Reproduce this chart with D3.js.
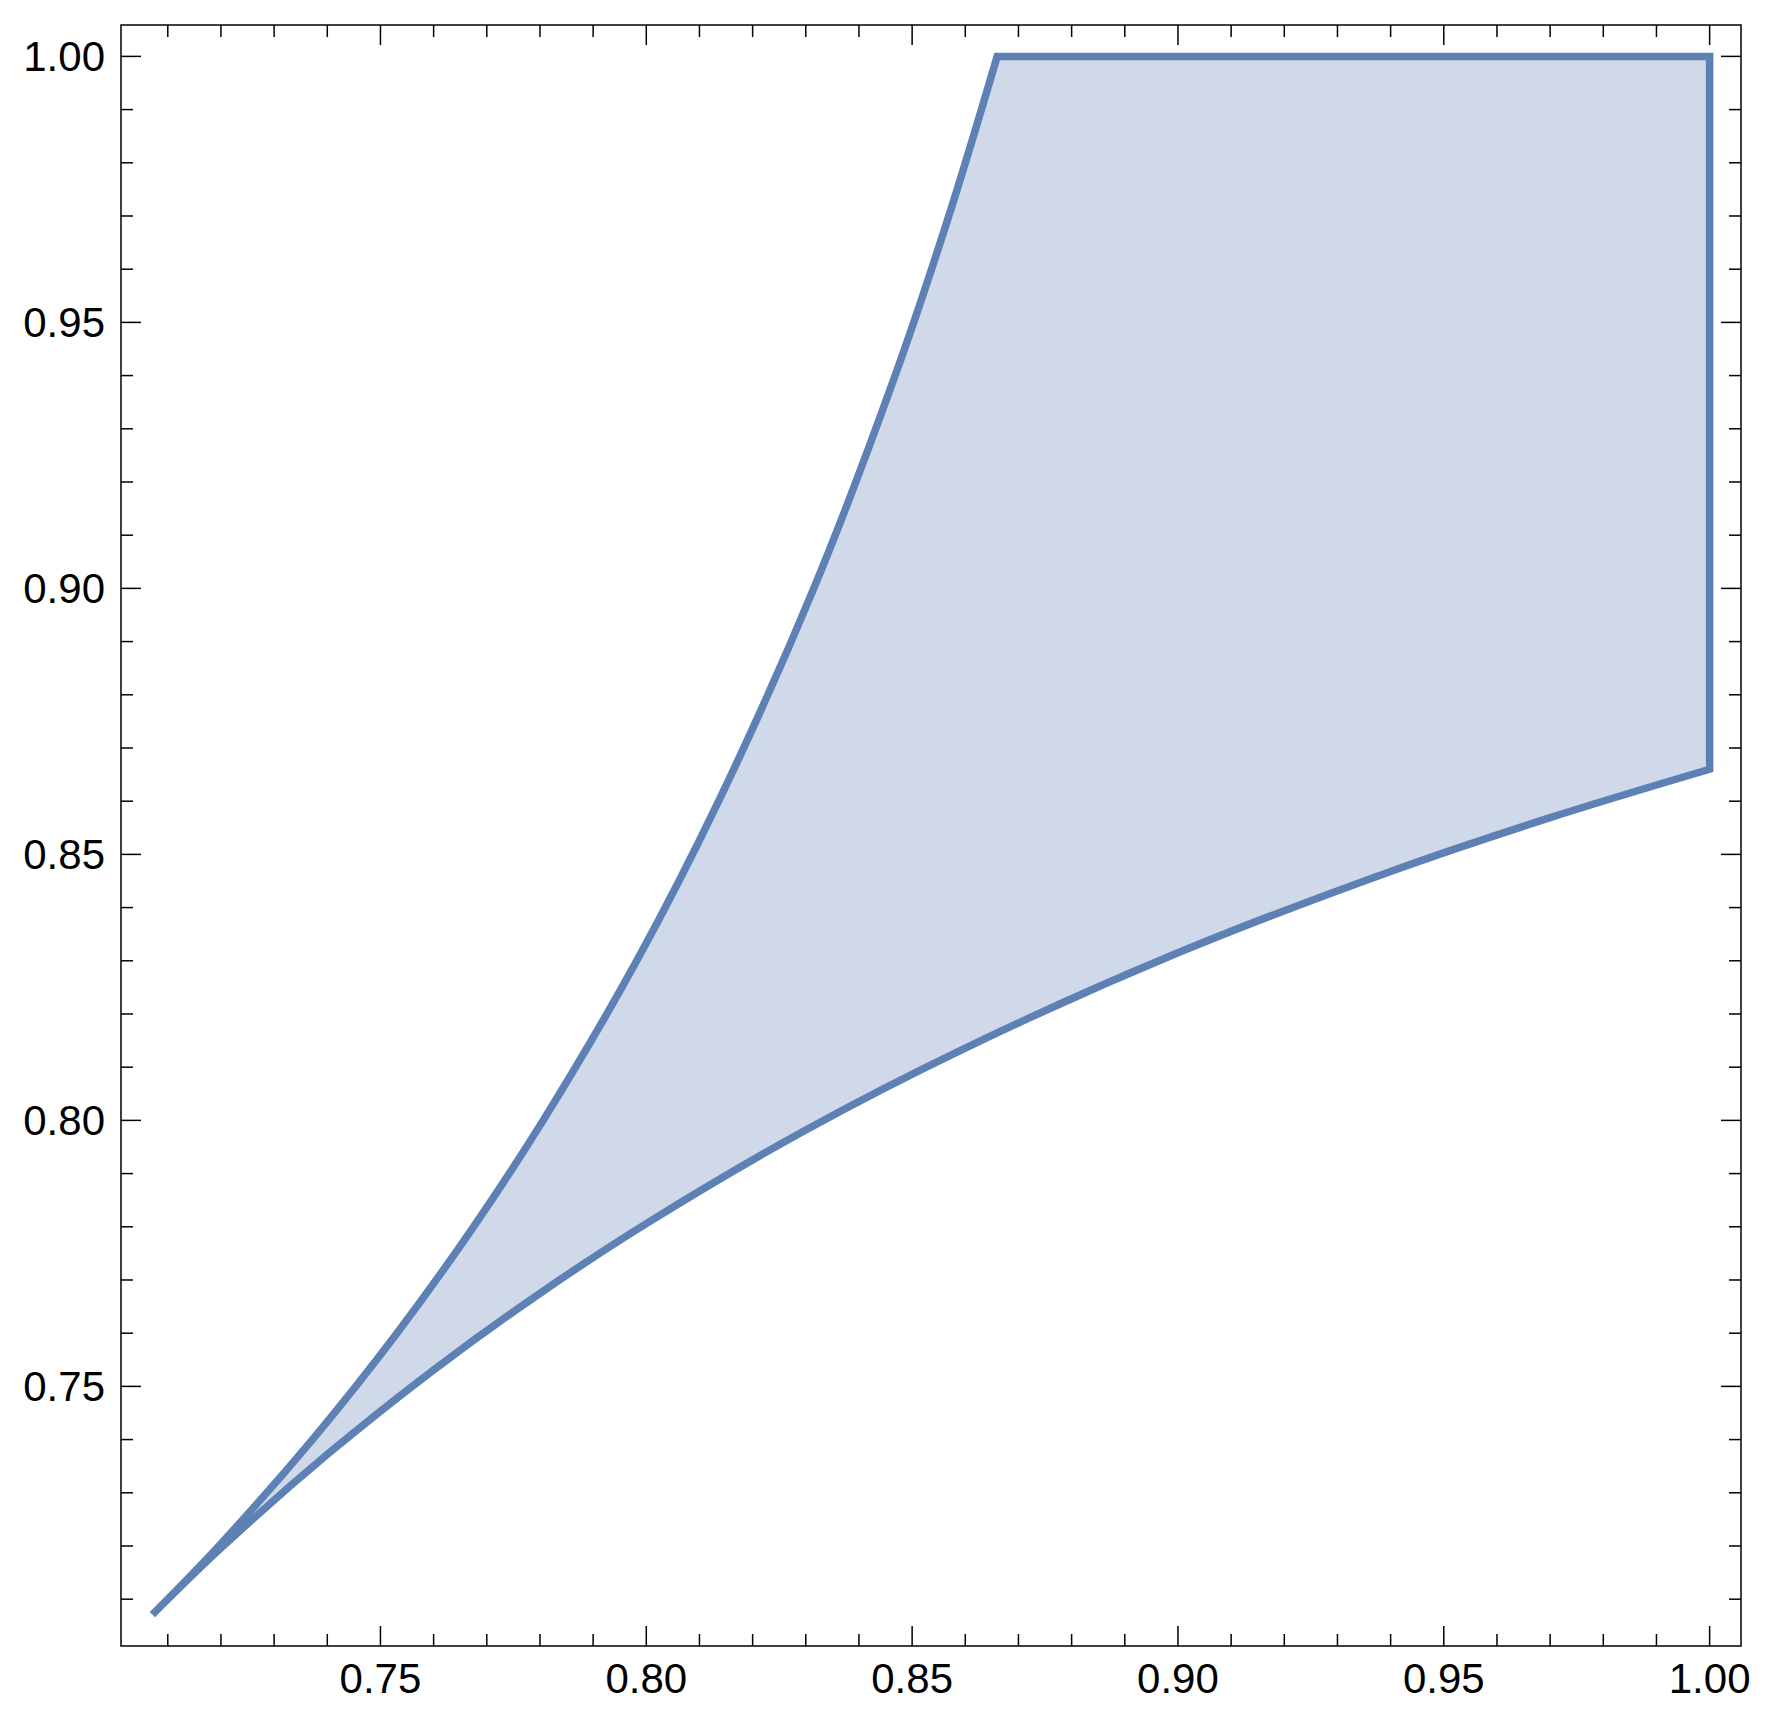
<!DOCTYPE html>
<html>
<head>
<meta charset="utf-8">
<script src="https://cdn.jsdelivr.net/npm/d3@7"></script>
<style>
  body { margin: 0; background: #fff; }
  text { font-family: "Liberation Sans", Arial, sans-serif; }
</style>
</head>
<body>
<div id="chart"></div>
<script>
// values
var lowerEdge = [
  [0.7071, 0.7071], [0.720, 0.7196], [0.740, 0.7372], [0.760, 0.7531],
  [0.780, 0.7675], [0.800, 0.7806], [0.830, 0.7982], [0.860, 0.8136],
  [0.900, 0.8315], [0.940, 0.8468], [0.970, 0.8569], [1.000, 0.8660]
];
var upperEdge = [
  [0.7071, 0.7071], [0.7196, 0.720], [0.7372, 0.740], [0.7531, 0.760],
  [0.7675, 0.780], [0.7806, 0.800], [0.7982, 0.830], [0.8136, 0.860],
  [0.8315, 0.900], [0.8468, 0.940], [0.8569, 0.970], [0.8660, 1.000]
];
var cornerTop = [1.0, 1.0];

var xMajor = [0.75, 0.80, 0.85, 0.90, 0.95, 1.00];
var yMajor = [0.75, 0.80, 0.85, 0.90, 0.95, 1.00];
var minorTicks = [0.71, 0.72, 0.73, 0.74, 0.76, 0.77, 0.78, 0.79, 0.81, 0.82, 0.83, 0.84,
  0.86, 0.87, 0.88, 0.89, 0.91, 0.92, 0.93, 0.94, 0.96, 0.97, 0.98, 0.99];
var domain = [0.7012, 1.0059];

var width = 1770, height = 1724;
var margin = { top: 25, left: 121, right: 29, bottom: 78 };

var svg = d3.select("#chart").append("svg")
  .attr("width", width)
  .attr("height", height);

var x = d3.scaleLinear().domain(domain).range([margin.left, width - margin.right]);
var y = d3.scaleLinear().domain(domain).range([height - margin.bottom, margin.top]);

var line = d3.line()
  .x(function(d) { return x(d[0]); })
  .y(function(d) { return y(d[1]); })
  .curve(d3.curveCatmullRom);

// region: lower edge, right side, top side, upper edge back to the tip
var d = line(lowerEdge) +
  "L" + x(cornerTop[0]) + "," + y(cornerTop[1]) +
  line(upperEdge.slice().reverse()).replace(/^M/, "L") + "Z";

svg.append("path")
  .attr("d", d)
  .attr("fill", "#cfd9e9")
  .attr("stroke", "#5e81b5")
  .attr("stroke-width", 7.5)
  .attr("stroke-linejoin", "miter");

// frame
var x0 = x.range()[0], x1 = x.range()[1], y0 = y.range()[0], y1 = y.range()[1];
svg.append("rect")
  .attr("x", x0).attr("y", y1)
  .attr("width", x1 - x0).attr("height", y0 - y1)
  .attr("fill", "none")
  .attr("stroke", "#000")
  .attr("stroke-width", 1.5);

var ticks = svg.append("g").attr("stroke", "#000").attr("stroke-width", 1.5);
function addTicks(vals, len) {
  vals.forEach(function(v) {
    // bottom, top
    ticks.append("line").attr("x1", x(v)).attr("x2", x(v)).attr("y1", y0).attr("y2", y0 - len);
    ticks.append("line").attr("x1", x(v)).attr("x2", x(v)).attr("y1", y1).attr("y2", y1 + len);
    // left, right
    ticks.append("line").attr("y1", y(v)).attr("y2", y(v)).attr("x1", x0).attr("x2", x0 + len);
    ticks.append("line").attr("y1", y(v)).attr("y2", y(v)).attr("x1", x1).attr("x2", x1 - len);
  });
}
addTicks(xMajor, 20);
addTicks(minorTicks, 12);

svg.selectAll(".xlabel")
  .data(xMajor)
  .enter().append("text")
  .attr("class", "xlabel")
  .attr("x", function(v) { return x(v); })
  .attr("y", 1693)
  .attr("text-anchor", "middle")
  .attr("font-size", 42)
  .text(function(v) { return v.toFixed(2); });

svg.selectAll(".ylabel")
  .data(yMajor)
  .enter().append("text")
  .attr("class", "ylabel")
  .attr("x", 105)
  .attr("y", function(v) { return y(v) + 15; })
  .attr("text-anchor", "end")
  .attr("font-size", 42)
  .text(function(v) { return v.toFixed(2); });
</script>
</body>
</html>
